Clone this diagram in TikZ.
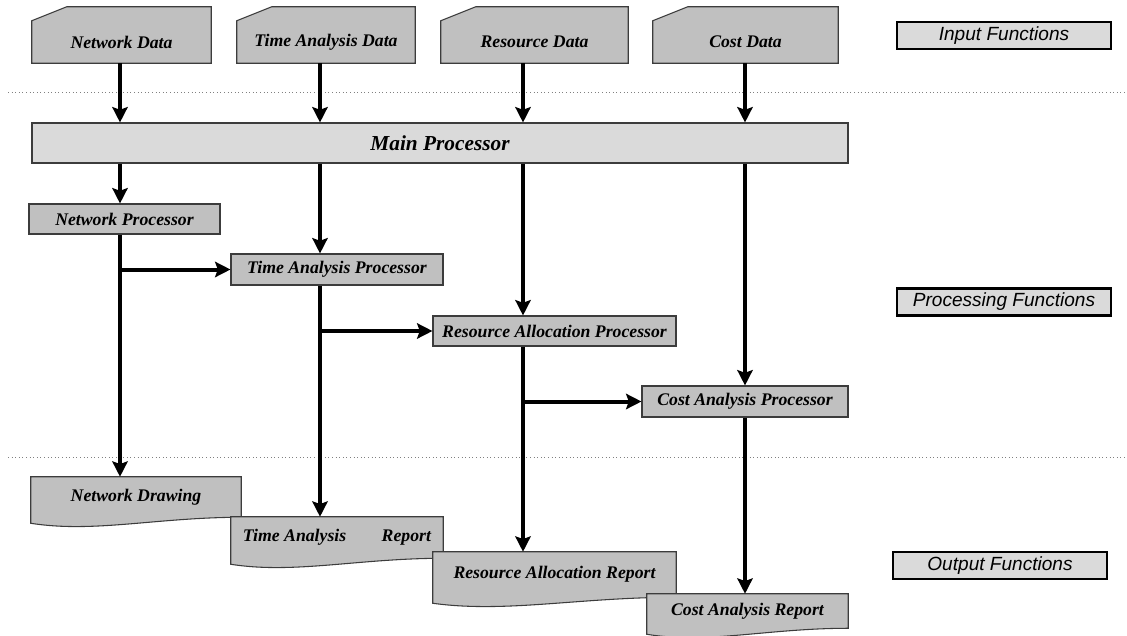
\documentclass[tikz,border=0pt]{standalone}
\usepackage{fontspec}
\setmainfont{Liberation Serif}
\newfontfamily\legendfont{Liberation Sans}
\usetikzlibrary{arrows.meta,backgrounds,calc}

\definecolor{boxgray}{RGB}{192,192,192}
\definecolor{mainfill}{RGB}{218,218,218}
\definecolor{edgegray}{RGB}{60,60,60}

\tikzset{
  flow/.style={line width=3pt, -{Stealth[length=11.5pt,width=11.5pt,inset=2pt]}},
  boxtext/.style={inner sep=0pt, font=\fontsize{13.3}{15}\selectfont\bfseries\itshape},
  procbox/.style={boxtext, draw=edgegray, line width=0.8pt, fill=boxgray},
  shapefill/.style={draw=edgegray, line width=0.8pt, fill=boxgray},
  legendbox/.style={draw=black, line width=1.8pt, fill=mainfill, inner sep=0pt,
    minimum width=160.5pt, minimum height=20.25pt,
    font=\legendfont\fontsize{14.3}{16}\selectfont\itshape},
  sepline/.style={draw=gray, dotted, line width=0.7pt}
}

\begin{document}
\begin{tikzpicture}[x=0.75pt,y=0.75pt,yscale=-1,xscale=1]
\useasboundingbox (0,0) rectangle (1127,635);

%Column lines of the flow
\coordinate (c1) at (120,0);
\coordinate (c2) at (320,0);
\coordinate (c3) at (523,0);
\coordinate (c4) at (745,0);

%Separators
\draw[sepline] (8,92) -- (1127,92);
\draw[sepline] (8,457) -- (1127,457);

%Input cards
\node[boxtext, minimum width=134.25pt, minimum height=31.5pt] (nd) at (121.5,42) {Network Data};
\node[boxtext, minimum width=133.5pt, minimum height=31.5pt] (td) at (326,42) {Time Analysis Data};
\node[boxtext, minimum width=140.25pt, minimum height=31.5pt] (rd) at (534.5,42) {Resource Data};
\node[boxtext, minimum width=138.75pt, minimum height=31.5pt] (cd) at (745.5,42) {Cost Data};

%Processors
\node[procbox, fill=mainfill, minimum width=612pt, minimum height=30pt,
  font=\fontsize{16}{18}\selectfont\bfseries\itshape] (main) at (440,143) {Main Processor};
\node[procbox, minimum width=143.25pt, minimum height=22.5pt] (np) at (124.5,219) {Network Processor};
\node[procbox, minimum width=159pt, minimum height=23.25pt] (tp) at (337,269.5) {Time Analysis Processor};
\node[procbox, minimum width=182.25pt, minimum height=22.5pt] (rp) at (554.5,331) {Resource Allocation Processor};
\node[procbox, minimum width=154.5pt, minimum height=23.25pt] (cp) at (745,401.5) {Cost Analysis Processor};

%Output documents
\node[boxtext, minimum width=157.5pt, minimum height=30pt] (ndr) at (136,497) {Network Drawing};
\node[boxtext, minimum width=159pt, minimum height=30.75pt] (tar) at (337,537.5) {Time Analysis\hspace{2em}Report};
\node[boxtext, minimum width=182.25pt, minimum height=33.75pt] (rar) at (554.5,574.5) {Resource Allocation Report};
\node[boxtext, minimum width=150.75pt, minimum height=25.5pt] (car) at (747.5,611) {Cost Analysis Report};

%Legend
\node[legendbox] (inl) at (1004,35.5) {Input Functions};
\node[legendbox] (prl) at (1004,302) {Processing Functions};
\node[legendbox] (oul) at (1000,565.5) {Output Functions};

%Card and document outlines
\begin{scope}[on background layer]
\foreach \n in {nd,td,rd,cd}
  \draw[shapefill] (\n.south west) -- (\n.north west) -- ($(\n.north west)+(35,-14)$)
    -- ($(\n.north east)+(0,-14)$) -- (\n.south east) -- cycle;
\foreach \n in {ndr,tar,rar,car}
  \draw[shapefill] (\n.north west) -- (\n.north east) -- (\n.south east)
    .. controls ($(\n.south east)!0.4!(\n.south west)$) and ($(\n.south east)!0.7!(\n.south west)+(0,16)$)
    .. ($(\n.south west)+(0,6)$) -- cycle;
\end{scope}

%Inputs into main processor
\draw[flow] (nd.south -| c1) -- (main.north -| c1);
\draw[flow] (td.south -| c2) -- (main.north -| c2);
\draw[flow] (rd.south -| c3) -- (main.north -| c3);
\draw[flow] (cd.south -| c4) -- (main.north -| c4);

%Main processor to processors
\draw[flow] (main.south -| c1) -- (np.north -| c1);
\draw[flow] (main.south -| c2) -- (tp.north -| c2);
\draw[flow] (main.south -| c3) -- (rp.north -| c3);
\draw[flow] (main.south -| c4) -- (cp.north -| c4);

%Processors to reports
\draw[flow] (np.south -| c1) -- (ndr.north -| c1);
\draw[flow] (tp.south -| c2) -- (tar.north -| c2);
\draw[flow] (rp.south -| c3) -- (rar.north -| c3);
\draw[flow] (cp.south -| c4) -- (car.north -| c4);

%Branches to the next processor
\draw[flow] (c1 |- tp.west) -- (tp.west);
\draw[flow] (c2 |- rp.west) -- (rp.west);
\draw[flow] (c3 |- cp.west) -- (cp.west);

\end{tikzpicture}
\end{document}
